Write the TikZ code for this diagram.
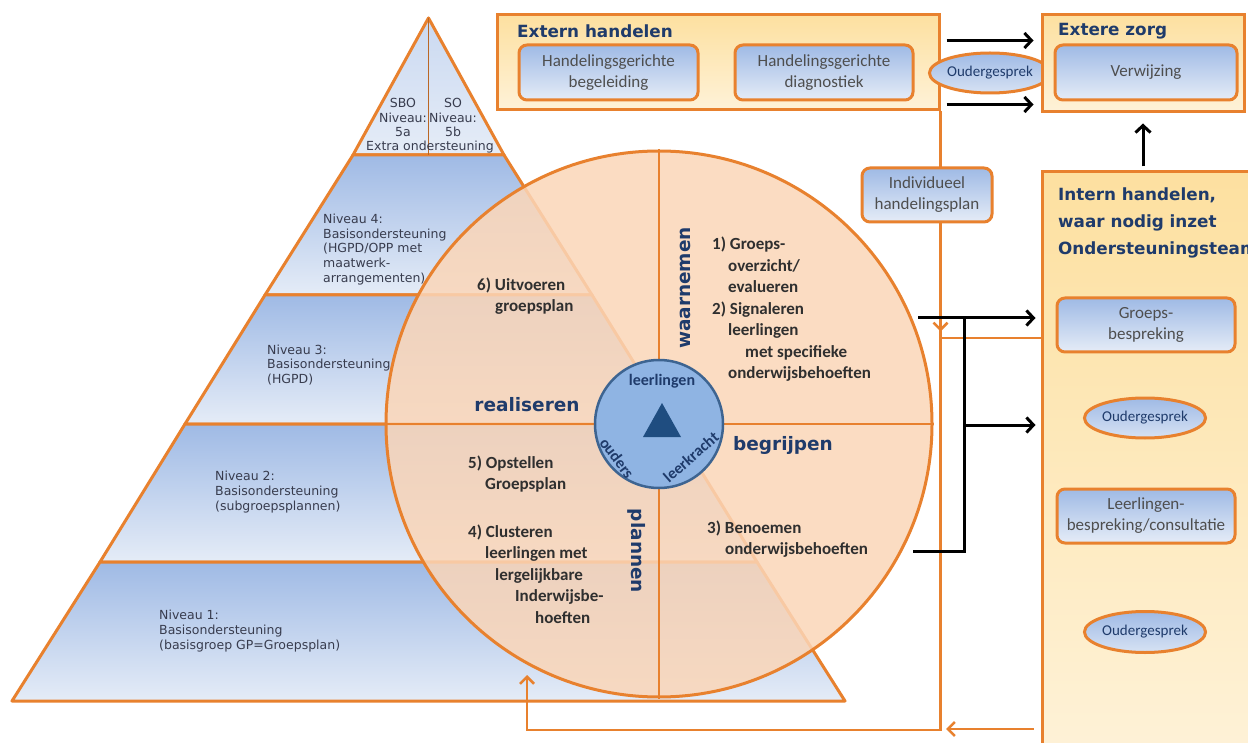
\documentclass[tikz,border=0pt]{standalone}
\usepackage{fontspec}
\setmainfont{Carlito}
\newfontfamily\verd{DejaVu Sans}
\usetikzlibrary{arrows.meta, shapes.geometric}
\definecolor{oranje}{HTML}{E8812E}
\definecolor{perzik}{HTML}{FBD6B8}
\definecolor{navy}{HTML}{1F3B6B}
\definecolor{grijs}{HTML}{2F2F2F}
\definecolor{ptgrijs}{HTML}{383C4E}
\definecolor{blauwT}{HTML}{9FBAE5}
\definecolor{blauwB}{HTML}{E5ECF7}
\definecolor{geelT}{HTML}{FDE0A0}
\definecolor{geelB}{HTML}{FEF2D8}
\definecolor{hubblue}{HTML}{8FB4E3}
\definecolor{hubrand}{HTML}{3D6491}
\definecolor{drie}{HTML}{1F4D80}
\tikzstyle{lvl} = [draw=oranje, line width=3pt, line join=round, top color=blauwT, bottom color=blauwB]
\tikzstyle{ptxt} = [font=\verd\fontsize{12.5}{14.8}\selectfont, text=ptgrijs, align=left, anchor=west, inner sep=0]
\tikzstyle{qtxt} = [font=\bfseries\fontsize{17}{21.5}\selectfont, text=grijs, align=left, anchor=west, inner sep=0]
\tikzstyle{fase} = [font=\verd\bfseries\fontsize{18.5}{20}\selectfont, text=navy, inner sep=0]
\tikzstyle{hubtxt} = [font=\bfseries\fontsize{16}{16}\selectfont, text=navy, inner sep=0]
\tikzstyle{kop} = [font=\verd\bfseries\fontsize{16.8}{27}\selectfont, text=navy, align=left, anchor=west, inner sep=0]
\tikzstyle{zone} = [draw=oranje, line width=3pt, top color=geelT, bottom color=geelB]
\tikzstyle{box} = [draw=oranje, line width=3pt, rounded corners=8pt, top color=blauwT, bottom color=blauwB, align=center, font=\fontsize{17}{21}\selectfont, text=grijs!85!white, inner sep=0]
\tikzstyle{oud} = [ellipse, draw=oranje, line width=3pt, top color=blauwT, bottom color=blauwB!80!blauwT, font=\fontsize{15}{15}\selectfont, text=navy, inner sep=0]
\tikzstyle{blk} = [line width=3pt, -{Straight Barb[length=7pt,width=15pt]}]
\tikzstyle{oline} = [draw=oranje, line width=2.5pt]
\tikzstyle{otip} = [-{Straight Barb[length=7pt,width=14pt]}]

\begin{document}
\begin{tikzpicture}[x=1pt, y=-1pt]
    \path[use as bounding box] (0,0) rectangle (1248,743);
    \clip (0,0) rectangle (1248,743);
    \fill[white] (0,0) rectangle (1248,743);

    % piramide
    \path[lvl, top color=blauwT!55!white] (428.5,18) -- (504,155) -- (353,155) -- cycle;
    \foreach \ya/\xa/\yb/\xb in {155/353/295/265, 295/265/424/185, 424/185/562/100, 562/100/701/12} {
        \path[lvl] (\xa,\ya) -- (857-\xa,\ya) -- (857-\xb,\yb) -- (\xb,\yb) -- cycle;
    }
    \draw[oranje!80!black, line width=1.5pt] (428.5,18) -- (428.5,155);

    \node[ptxt, align=center, anchor=center] (n5a) at (403,117.5) {SBO\\Niveau:\\5a};
    \node[ptxt, align=center, anchor=center] (n5b) at (453,117.5) {SO\\Niveau:\\5b};
    \node[ptxt, anchor=center] (n5) at (430,147) {Extra ondersteuning};
    \node[ptxt] (n4) at (323,249.5) {Niveau 4:\\Basisondersteuning\\(HGPD/OPP met\\maatwerk-\\arrangementen)};
    \node[ptxt] (n3) at (267,365) {Niveau 3:\\Basisondersteuning\\(HGPD)};
    \node[ptxt] (n2) at (215,492) {Niveau 2:\\Basisondersteuning\\(subgroepsplannen)};
    \node[ptxt] (n1) at (159,631) {Niveau 1:\\Basisondersteuning\\(basisgroep GP=Groepsplan)};

    % cyclus
    \node[circle, draw=oranje, line width=3pt, fill=perzik, fill opacity=0.85, minimum size=546pt, inner sep=0] (wheel) at (659,424) {};
    \draw[oranje, line width=2.5pt] (wheel.west) -- (wheel.east);
    \draw[oranje, line width=2.5pt] (wheel.north) -- (wheel.south);
    \node[circle, draw=hubrand, line width=2.5pt, fill=hubblue, minimum size=128pt, inner sep=0] (hub) at (659,424) {};
    \fill[drie] (662,403) -- (681,437) -- (643,437) -- cycle;
    \node[hubtxt] (ll) at (662,381) {leerlingen};
    \node[hubtxt, rotate=-53] (ou) at (617,458) {ouders};
    \node[hubtxt, rotate=41] (lk) at (691,457) {leerkracht};

    \node[fase, rotate=90] (waar) at (685,288) {waarnemen};
    \node[fase] (real) at (527,405) {realiseren};
    \node[fase] (begr) at (783,445) {begrijpen};
    \node[fase, rotate=-90] (plan) at (637,551) {plannen};

    \node[qtxt] (q1) at (712,309.5) {1) Groeps-\\\hspace*{16pt}overzicht/\\\hspace*{16pt}evalueren\\2) Signaleren\\\hspace*{16pt}leerlingen\\\hspace*{33pt}met specifieke\\\hspace*{16pt}onderwijsbehoeften};
    \node[qtxt] (q6) at (477,296) {6) Uitvoeren\\\hspace*{18pt}groepsplan};
    \node[qtxt] (q5) at (468,474) {5) Opstellen\\\hspace*{17pt}Groepsplan};
    \node[qtxt] (q4) at (468,574) {4) Clusteren\\\hspace*{17pt}leerlingen met\\\hspace*{27pt}lergelijkbare\\\hspace*{47pt}Inderwijsbe-\\\hspace*{67pt}hoeften};
    \node[qtxt] (q3) at (707,539) {3) Benoemen\\\hspace*{18pt}onderwijsbehoeften};

    % extern / intern
    \node[zone, minimum width=442pt, minimum height=95pt] (extern) at (718,62.5) {};
    \node[kop] (externT) at (517,31) {Extern handelen};
    \node[box, minimum width=179pt, minimum height=55pt] (hgb) at (608.5,72.5) {Handelingsgerichte\\begeleiding};
    \node[box, minimum width=178pt, minimum height=55pt] (hgd) at (824,72.5) {Handelingsgerichte\\diagnostiek};
    \node[oud, minimum width=89pt, minimum height=40pt] (oud1) at (990,73) {Oudergesprek};

    \node[zone, minimum width=202pt, minimum height=97pt] (zorg) at (1143,63.5) {};
    \node[kop] (zorgT) at (1058,31) {Extere zorg};
    \node[box, minimum width=182pt, minimum height=55pt] (verw) at (1146,72.5) {Verwijzing};

    \node[zone, minimum width=220pt, minimum height=590pt] (intern) at (1152,467) {};
    \node[kop] (internT) at (1058,223) {Intern handelen,\\waar nodig inzet\\Ondersteuningsteam};
    \node[box, minimum width=178pt, minimum height=54pt] (grp) at (1146,325) {Groeps-\\bespreking};
    \node[oud, minimum width=95pt, minimum height=40pt] (oud2) at (1145,418) {Oudergesprek};
    \node[box, minimum width=178pt, minimum height=54pt] (llb) at (1146,516) {Leerlingen-\\bespreking/consultatie};
    \node[oud, minimum width=95pt, minimum height=41pt] (oud3) at (1145,632) {Oudergesprek};

    % oranje terugkoppeling
    \coordinate (ret) at (527,675);
    \coordinate (kruis) at (939,338);
    \coordinate (terug) at (946,729);
    \draw[oline, otip] (extern.south east) |- ([yshift=-55pt]ret) -- (ret);
    \draw[oline] (kruis) -- (kruis -| intern.west);
    \draw[oline, {Straight Barb[length=7pt,width=14pt]}-, shorten >=7pt] (terug) -- (terug -| intern.west);
    \node[box, minimum width=130pt, minimum height=54pt] (ihp) at (927,195) {Individueel\\handelingsplan};
    \draw[oline, otip] (ihp.south -| extern.south east) -- ++(0,108);

    % zwarte pijlen
    \draw[blk] ([shift={(6,27)}]extern.north east) -- ([shift={(-7,27)}]zorg.north west);
    \draw[blk] ([shift={(6,-7)}]extern.south east) -- ([shift={(-7,-9)}]zorg.south west);
    \draw[blk, shorten <=4pt, shorten >=10pt] (intern.north -| zorg.south) -- (zorg.south);
    \coordinate (b3) at (913,551);
    \coordinate (b12) at (918,318);
    \coordinate (tak) at (964,425);
    \draw[line width=3pt] (b3) -| (b12 -| tak);
    \draw[blk, shorten >=5pt] (b12) -- (b12 -| intern.west);
    \draw[blk, shorten >=5pt] (tak) -- (tak -| intern.west);
\end{tikzpicture}
\end{document}
